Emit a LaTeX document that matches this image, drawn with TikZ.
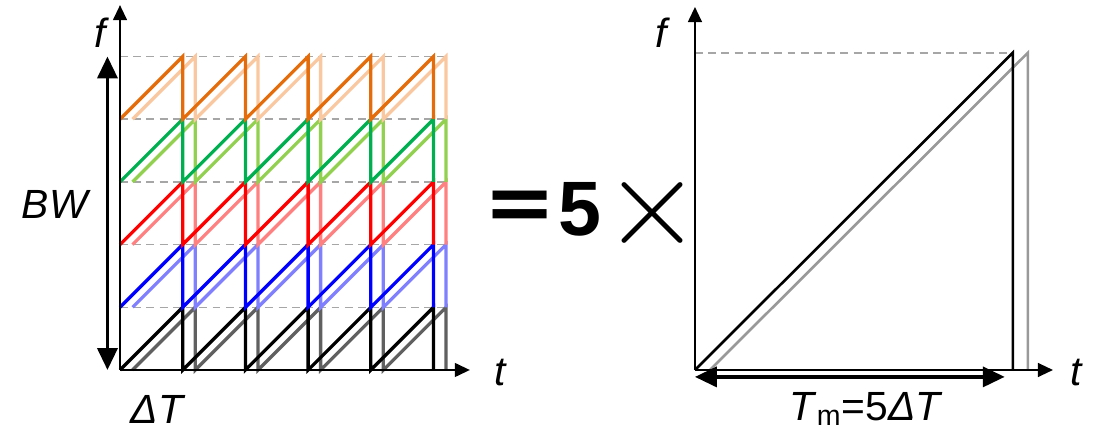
\documentclass[tikz,border=0pt]{standalone}
\usepackage{fontspec}
\setmainfont{Liberation Sans}
\newfontfamily\cjk{Noto Sans CJK JP}
\usetikzlibrary{arrows.meta}

\definecolor{sawgray}{RGB}{96,96,96}
\definecolor{sawblue}{RGB}{0,0,255}
\definecolor{sawlightblue}{RGB}{128,128,255}
\definecolor{sawred}{RGB}{255,0,0}
\definecolor{sawlightred}{RGB}{255,128,128}
\definecolor{sawgreen}{RGB}{0,176,80}
\definecolor{sawlightgreen}{RGB}{146,208,80}
\definecolor{saworange}{RGB}{228,108,10}
\definecolor{sawlightorange}{RGB}{250,200,160}
\definecolor{rampgray}{RGB}{153,153,153}

\begin{document}
\begin{tikzpicture}[
    axis/.style={line width=0.9pt, -{Triangle[length=0.24cm,width=0.22cm]}},
    span/.style={line width=1.6pt, {Triangle[length=0.35cm,width=0.32cm]}-{Triangle[length=0.35cm,width=0.32cm]}},
    guide/.style={gray!70, line width=0.7pt, dash pattern=on 3.6pt off 2.4pt},
    saw/.style={line width=1.5pt},
    ramp/.style={line width=1.2pt},
    lbl/.style={anchor=base, font=\fontsize{18.5}{22}\selectfont\itshape}]
    \useasboundingbox (-1.914,-0.989) rectangle (15.614,5.901);

    % Define the points of the left axes
    \coordinate (O1) at (0,0);
    \coordinate (F1) at (0,5.82);
    \coordinate (T1) at (5.58,0);
    \coordinate (BWlo) at (-0.2,0);
    \coordinate (BWhi) at (-0.2,5);

    % Draw the guide lines
    \foreach \k in {1,...,5}
        \draw[guide] (0,\k) -- (5.2,\k);

    % Draw the five sawtooth sweeps and their delayed copies
    \foreach \k/\dk/\lt in {0/black/sawgray, 1/sawblue/sawlightblue, 2/sawred/sawlightred,
                            3/sawgreen/sawlightgreen, 4/saworange/sawlightorange} {
        \draw[saw,\lt] (0.2,\k) \foreach \i in {1,...,5} { -- (\i+0.2,\k+1) -- (\i+0.2,\k) };
        \draw[saw,\dk] (0,\k) \foreach \i in {1,...,5} { -- (\i,\k+1) -- (\i,\k) };
    }

    % Draw the axes
    \draw[axis] (O1) -- (F1);
    \draw[axis] (O1) -- (T1);
    \draw[span] (BWlo) -- (BWhi);

    % Place the labels
    \node[lbl] (f1) at (-0.32,5.15) {f};
    \node[lbl] (t1) at (6.06,-0.24) {t};
    \node[lbl] (bw) at (-1.04,2.42) {BW};
    \node[lbl] (dt) at (0.59,-0.85) {ΔT};

    % Place the factor
    \node[anchor=base, font=\fontsize{35}{38}\selectfont\bfseries] (eq) at (6.72,2.15) {{\cjk ＝}5};
    \node[scale=2.3, font=\fontsize{24.88}{28}\selectfont] (times) at (8.50,2.50) {$\times$};

    \begin{scope}[shift={(9.17,0)}]
        % Define the points of the right axes
        \coordinate (O2) at (0,0);
        \coordinate (F2) at (0,5.79);
        \coordinate (T2) at (5.71,0);
        \coordinate (top) at (5.07,5.06);
        \coordinate (Tmlo) at (0,-0.11);
        \coordinate (Tmhi) at (4.94,-0.11);

        % Draw the single long sweep
        \draw[guide] (0,5.06) -- (top);
        \draw[ramp,rampgray] (0.24,0) -- (5.31,5.06) -- (5.31,0);
        \draw[ramp] (O2) -- (top) -- (5.07,0);

        % Draw the axes
        \draw[axis] (O2) -- (F2);
        \draw[axis] (O2) -- (T2);
        \draw[span] (Tmlo) -- (Tmhi);

        % Place the labels
        \node[lbl] (f2) at (-0.54,5.15) {f};
        \node[lbl] (t2) at (6.08,-0.24) {t};
        \node[lbl, font=\fontsize{18.5}{22}\selectfont] (tm) at (2.73,-0.80) {\textit{T}\textsubscript{m}=5\textit{ΔT}};
    \end{scope}
\end{tikzpicture}
\end{document}
